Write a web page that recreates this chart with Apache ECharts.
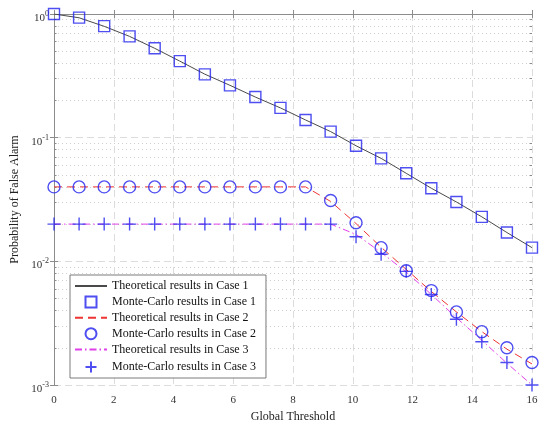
<!DOCTYPE html>
<html>
<head>
<meta charset="utf-8">
<script src="https://cdn.jsdelivr.net/npm/echarts@6/dist/echarts.min.js"></script>
<style>
html, body { margin: 0; padding: 0; background: #fff; }
#chart { width: 550px; height: 428px; }
</style>
</head>
<body>
<div id="chart"></div>
<script>
// 门限取值
var xValues = [0, 0.84, 1.68, 2.53, 3.37, 4.21, 5.05, 5.89, 6.74, 7.58, 8.42, 9.26, 10.11, 10.95, 11.79, 12.63, 13.47, 14.32, 15.16, 16];

// Case 1
var theory1 = [1.0, 0.932, 0.795, 0.659, 0.528, 0.416, 0.326, 0.265, 0.213, 0.174, 0.139, 0.112, 0.086, 0.068, 0.0515, 0.039, 0.0302, 0.0229, 0.0171, 0.0129];
var mc1 = [1.0, 0.934, 0.798, 0.659, 0.529, 0.416, 0.325, 0.265, 0.213, 0.174, 0.139, 0.112, 0.086, 0.068, 0.0515, 0.039, 0.0302, 0.0229, 0.0171, 0.0129];
// Case 2
var theory2 = [0.04, 0.04, 0.04, 0.04, 0.04, 0.04, 0.04, 0.04, 0.04, 0.04, 0.04, 0.0305, 0.0202, 0.013, 0.0086, 0.0057, 0.0039, 0.0027, 0.00195, 0.00148];
var mc2 = [0.04, 0.04, 0.04, 0.04, 0.04, 0.04, 0.04, 0.04, 0.04, 0.04, 0.04, 0.031, 0.0205, 0.0129, 0.0084, 0.0058, 0.0039, 0.0027, 0.0020, 0.00152];
// Case 3
var theory3 = [0.02, 0.02, 0.02, 0.02, 0.02, 0.02, 0.02, 0.02, 0.02, 0.02, 0.02, 0.02, 0.0165, 0.0118, 0.0082, 0.0054, 0.0035, 0.0023, 0.0015, 0.001];
var mc3 = [0.02, 0.02, 0.02, 0.02, 0.02, 0.02, 0.02, 0.02, 0.02, 0.02, 0.02, 0.02, 0.0158, 0.0114, 0.0083, 0.0054, 0.0034, 0.00224, 0.00152, 0.001];

// 对数轴次刻度
var minorTicks = [0.002, 0.003, 0.004, 0.005, 0.006, 0.007, 0.008, 0.009,
	0.02, 0.03, 0.04, 0.05, 0.06, 0.07, 0.08, 0.09,
	0.2, 0.3, 0.4, 0.5, 0.6, 0.7, 0.8, 0.9];
var minorExp = minorTicks.map(function(v) { return Math.log10(v); });

var legendNames = ['Theoretical results in Case 1', 'Monte-Carlo results in Case 1',
	'Theoretical results in Case 2', 'Monte-Carlo results in Case 2',
	'Theoretical results in Case 3', 'Monte-Carlo results in Case 3'];

function pairs(ys) {
	var out = [];
	for(var i = 0; i < xValues.length; i++) {
		out.push([xValues[i], ys[i]]);
	}
	return out;
}

var fontName = 'Liberation Serif';
var axisGray = '#8c8c8c';
var blue = '#2222ee';
var squarePath = 'path://M0,0L10,0L10,10L0,10Z';

var markerStyle = {
	color: 'rgba(255,255,255,0)',
	borderColor: blue,
	borderWidth: 1.4
};

// 图例：理论曲线只画线，不画点
var legendData = [];
for(var k = 0; k < legendNames.length; k++) {
	if(k % 2 == 0) {
		legendData.push({ name: legendNames[k], itemStyle: { color: 'rgba(0,0,0,0)', borderWidth: 0 } });
	} else {
		legendData.push({ name: legendNames[k] });
	}
}

var option = {
	animation: false,
	textStyle: { fontFamily: fontName },
	grid: { left: 54, right: 18, top: 14, bottom: 38 },
	legend: {
		data: legendData,
		orient: 'vertical',
		left: 70,
		top: 275,
		padding: [5, 10, 3, 4],
		itemWidth: 32,
		itemHeight: 11,
		itemGap: 3.4,
		backgroundColor: '#fff',
		borderColor: '#7a7a7a',
		borderWidth: 1,
		borderRadius: 0,
		textStyle: { fontFamily: fontName, fontSize: 12, color: '#111' }
	},
	xAxis: [{
		type: 'value',
		min: 0,
		max: 16,
		interval: 2,
		position: 'bottom',
		name: 'Global Threshold',
		nameLocation: 'middle',
		nameGap: 26,
		nameTextStyle: { fontFamily: fontName, fontSize: 12, color: '#222' },
		axisLine: { lineStyle: { color: axisGray, width: 1 } },
		axisTick: { inside: true, length: 4, lineStyle: { color: axisGray } },
		axisLabel: { fontFamily: fontName, fontSize: 11, color: '#333', margin: 10 },
		splitLine: { show: true, lineStyle: { color: '#dcdcdc', type: [7, 4], width: 1 } }
	}, {
		type: 'value',
		min: 0,
		max: 16,
		interval: 2,
		position: 'top',
		axisLine: { lineStyle: { color: axisGray, width: 1 } },
		axisTick: { inside: true, length: 4, lineStyle: { color: axisGray } },
		axisLabel: { show: false },
		splitLine: { show: false }
	}],
	yAxis: [{
		type: 'log',
		logBase: 10,
		min: 0.001,
		max: 1,
		position: 'left',
		name: 'Probability of False Alarm',
		nameLocation: 'middle',
		nameGap: 29,
		nameTextStyle: { fontFamily: fontName, fontSize: 12, color: '#222' },
		axisLine: { show: true, lineStyle: { color: axisGray, width: 1 } },
		axisTick: { inside: true, length: 4, lineStyle: { color: axisGray } },
		axisLabel: {
			margin: 5,
			padding: [8, 0, 0, 0],
			formatter: function(v) {
				var e = Math.round(Math.log10(v));
				return '{b|10}{e|' + e + '}';
			},
			rich: {
				b: { fontFamily: fontName, fontSize: 11, color: '#333', lineHeight: 16 },
				e: { fontFamily: fontName, fontSize: 8, color: '#333', lineHeight: 10, verticalAlign: 'top' }
			}
		},
		splitLine: { show: true, lineStyle: { color: '#dcdcdc', type: [7, 4], width: 1 } }
	}, {
		type: 'log',
		logBase: 10,
		min: 0.001,
		max: 1,
		position: 'right',
		axisLine: { show: true, lineStyle: { color: axisGray, width: 1 } },
		axisTick: { inside: true, length: 4, lineStyle: { color: axisGray } },
		axisLabel: { show: false },
		splitLine: { show: false }
	}, {
		type: 'value',
		min: -3,
		max: 0,
		position: 'left',
		axisLine: { show: false },
		axisTick: { show: true, inside: true, length: 2.5, customValues: minorExp, lineStyle: { color: axisGray } },
		axisLabel: { show: false },
		splitLine: { show: true, lineStyle: { color: '#cfcfcf', type: [1, 3], width: 1 } }
	}, {
		type: 'value',
		min: -3,
		max: 0,
		position: 'right',
		axisLine: { show: false },
		axisTick: { show: true, inside: true, length: 2.5, customValues: minorExp, lineStyle: { color: axisGray } },
		axisLabel: { show: false },
		splitLine: { show: false }
	}],
	series: [{
		name: legendNames[0],
		type: 'line',
		data: pairs(theory1),
		symbol: 'none',
		lineStyle: { color: '#4a4a4a', width: 1 },
		itemStyle: { color: '#4a4a4a' },
		z: 3
	}, {
		name: legendNames[1],
		type: 'scatter',
		data: pairs(mc1),
		symbol: squarePath,
		symbolSize: 11,
		symbolKeepAspect: true,
		itemStyle: markerStyle,
		z: 5
	}, {
		name: legendNames[2],
		type: 'line',
		data: pairs(theory2),
		symbol: 'none',
		lineStyle: { color: '#ee3333', width: 1, type: [8, 5] },
		itemStyle: { color: '#ee3333' },
		z: 3
	}, {
		name: legendNames[3],
		type: 'scatter',
		data: pairs(mc2),
		symbol: 'circle',
		symbolSize: 12,
		symbolKeepAspect: true,
		itemStyle: markerStyle,
		z: 5
	}, {
		name: legendNames[4],
		type: 'line',
		data: pairs(theory3),
		symbol: 'none',
		lineStyle: { color: '#e040e8', width: 1, type: [7, 3, 1.5, 3] },
		itemStyle: { color: '#e040e8' },
		z: 3
	}, {
		name: legendNames[5],
		type: 'scatter',
		data: pairs(mc3),
		symbol: 'path://M5,0L5,10M0,5L10,5',
		symbolSize: 13,
		symbolKeepAspect: true,
		itemStyle: { color: 'none', borderColor: blue, borderWidth: 1.4 },
		z: 5
	}]
};

var chart = echarts.init(document.getElementById('chart'));
chart.setOption(option);
</script>
</body>
</html>
